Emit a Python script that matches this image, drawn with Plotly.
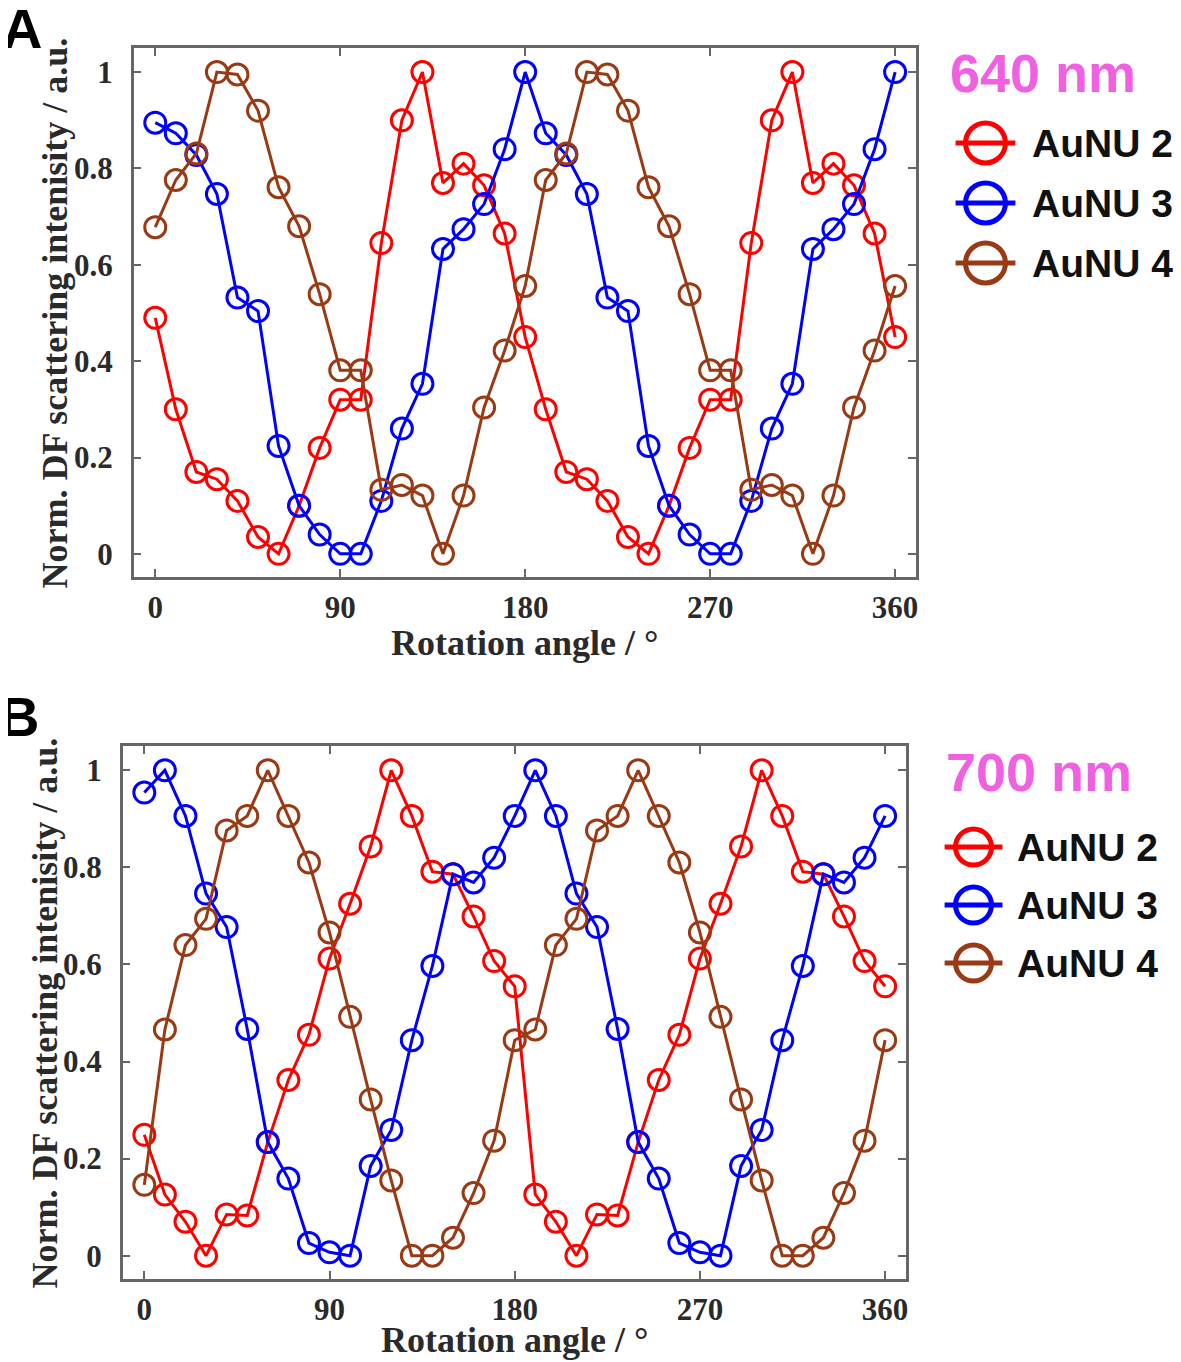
import plotly.graph_objects as go

PAGE_W, PAGE_H = 1181, 1362
OFF = 8  # the page body adds an 8px margin around the figure
W, H = PAGE_W - OFF, PAGE_H - OFF

angles = list(range(0, 361, 10))
series_names = ['AuNU 2', 'AuNU 3', 'AuNU 4']
series_colors = ['#FF0000', '#0000FF', '#993A14']
x_ticks = [0, 90, 180, 270, 360]
y_ticks = [0, 0.2, 0.4, 0.6, 0.8, 1]

# panel A, 640 nm
aunu2_640 = [0.49, 0.30, 0.17, 0.155, 0.11, 0.035, 0.0, 0.10, 0.22, 0.32, 0.32, 0.645, 0.90, 1.0,
             0.77, 0.81, 0.765, 0.665, 0.45, 0.30, 0.17, 0.155, 0.11, 0.035, 0.0, 0.10, 0.22, 0.32,
             0.32, 0.645, 0.90, 1.0, 0.77, 0.81, 0.765, 0.665, 0.45]
aunu3_640 = [0.895, 0.873, 0.828, 0.747, 0.532, 0.504, 0.224, 0.10, 0.04, 0.0, 0.0, 0.11, 0.26, 0.353,
             0.633, 0.674, 0.726, 0.84, 1.0, 0.873, 0.828, 0.747, 0.532, 0.504, 0.224, 0.10, 0.04, 0.0,
             0.0, 0.11, 0.26, 0.353, 0.633, 0.674, 0.726, 0.84, 1.0]
aunu4_640 = [0.678, 0.776, 0.831, 1.0, 0.995, 0.92, 0.761, 0.68, 0.539, 0.381, 0.381, 0.133, 0.143, 0.121,
             0.0, 0.121, 0.304, 0.422, 0.556, 0.776, 0.831, 1.0, 0.995, 0.92, 0.761, 0.68, 0.539, 0.381,
             0.381, 0.133, 0.143, 0.121, 0.0, 0.121, 0.304, 0.422, 0.556]

# panel B, 700 nm
aunu2_700 = [0.249, 0.126, 0.07, 0.0, 0.085, 0.083, 0.234, 0.362, 0.455, 0.612, 0.725, 0.843, 1.0, 0.906,
             0.791, 0.786, 0.699, 0.607, 0.555, 0.126, 0.07, 0.0, 0.085, 0.083, 0.234, 0.362, 0.455, 0.612,
             0.725, 0.843, 1.0, 0.906, 0.791, 0.786, 0.699, 0.607, 0.555]
aunu3_700 = [0.954, 1.0, 0.906, 0.746, 0.677, 0.467, 0.234, 0.159, 0.026, 0.007, 0.0, 0.185, 0.259, 0.444,
             0.597, 0.786, 0.769, 0.82, 0.906, 1.0, 0.906, 0.746, 0.677, 0.467, 0.234, 0.159, 0.026, 0.007,
             0.0, 0.185, 0.259, 0.444, 0.597, 0.786, 0.769, 0.82, 0.906]
aunu4_700 = [0.146, 0.466, 0.64, 0.694, 0.876, 0.906, 1.0, 0.906, 0.81, 0.666, 0.492, 0.322, 0.155, 0.0,
             0.0, 0.037, 0.129, 0.237, 0.444, 0.466, 0.64, 0.694, 0.876, 0.906, 1.0, 0.906, 0.81, 0.666,
             0.492, 0.322, 0.155, 0.0, 0.0, 0.037, 0.129, 0.237, 0.444]

# layout positions below are page pixels (top-left origin)
panels = [
    dict(label='A', wavelength='640 nm', data=[aunu2_640, aunu3_640, aunu4_640],
         box=(134, 918, 48, 577), label_xy=(22, 28), xtitle_y=643, ytitle_x=55,
         head_xy=(950, 73), line_x=(958, 1018), text_x=1033, rows=[143, 203, 263], circ=40),
    dict(label='B', wavelength='700 nm', data=[aunu2_700, aunu3_700, aunu4_700],
         box=(123, 908, 746, 1279), label_xy=(19, 716), xtitle_y=1340, ytitle_x=45,
         head_xy=(946, 772), line_x=(947, 1005), text_x=1018, rows=[847, 905, 963], circ=36),
]

serif = 'Liberation Serif, Times New Roman, serif'
sans = 'Liberation Sans, Arial, sans-serif'
axis_grey = '#666666'
text_grey = '#2a2a2a'

fig = go.Figure()
annotations = []

for i, p in enumerate(panels):
    xa = 'x' if i == 0 else 'x2'
    ya = 'y' if i == 0 else 'y2'
    for name, color, vals in zip(series_names, series_colors, p['data']):
        fig.add_trace(go.Scatter(
            x=angles, y=vals, name=name, mode='lines+markers',
            xaxis=xa, yaxis=ya, showlegend=False,
            line=dict(color=color, width=3),
            marker=dict(symbol='circle-open', size=21, color=color, line=dict(width=3, color=color))
        ))

    x0, x1, y0, y1 = p['box']
    common = dict(showline=True, linecolor=axis_grey, linewidth=2.5, mirror='allticks',
                  ticks='inside', ticklen=8, tickwidth=2, tickcolor=axis_grey,
                  showgrid=False, zeroline=False,
                  tickfont=dict(family=serif, size=31, color=text_grey, weight='bold'))
    key = '' if i == 0 else '2'
    fig.update_layout(**{
        'xaxis' + key: dict(domain=[(x0 - OFF) / W, (x1 - OFF) / W], range=[-10.5, 370],
                            tickvals=x_ticks, anchor='y' + key, ticklabelstandoff=1, **common),
        'yaxis' + key: dict(domain=[1 - (y1 - OFF) / H, 1 - (y0 - OFF) / H], range=[-0.048, 1.05],
                            tickvals=y_ticks, anchor='x' + key, ticklabelstandoff=12, **common),
    })

    # axis titles
    annotations.append(dict(x=(x0 + x1) / 2, y=p['xtitle_y'], xref='x3', yref='y3',
                            text='Rotation angle / \u00b0', showarrow=False,
                            xanchor='center', yanchor='middle',
                            font=dict(family=serif, size=36, color=text_grey, weight='bold')))
    annotations.append(dict(x=p['ytitle_x'], y=(y0 + y1) / 2, xref='x3', yref='y3',
                            text='Norm. DF scattering intenisity / a.u.', showarrow=False,
                            textangle=-90, xanchor='center', yanchor='middle',
                            font=dict(family=serif, size=36, color=text_grey, weight='bold')))

    # legend drawn on a full-page pixel overlay so the symbols can be large
    lx0, lx1 = p['line_x']
    for row, name, color in zip(p['rows'], series_names, series_colors):
        fig.add_trace(go.Scatter(
            x=[lx0, lx1], y=[row, row], mode='lines', xaxis='x3', yaxis='y3',
            showlegend=False, hoverinfo='skip', line=dict(color=color, width=5)))
        fig.add_trace(go.Scatter(
            x=[(lx0 + lx1) / 2], y=[row], mode='markers', xaxis='x3', yaxis='y3',
            showlegend=False, hoverinfo='skip',
            marker=dict(symbol='circle-open', size=p['circ'], color=color, line=dict(width=5, color=color))))
        annotations.append(dict(x=p['text_x'], y=row, xref='x3', yref='y3', text=name,
                                showarrow=False, xanchor='left', yanchor='middle',
                                font=dict(family=sans, size=39, color='#111111', weight='bold')))
    hx, hy = p['head_xy']
    annotations.append(dict(x=hx, y=hy, xref='x3', yref='y3', text=p['wavelength'],
                            showarrow=False, xanchor='left', yanchor='middle',
                            font=dict(family=sans, size=54, color='#F060E0', weight='bold')))
    lbx, lby = p['label_xy']
    annotations.append(dict(x=lbx, y=lby, xref='x3', yref='y3', text=p['label'],
                            showarrow=False, xanchor='center', yanchor='middle',
                            font=dict(family=sans, size=56, color='#000000', weight='bold')))

fig.update_layout(
    width=W, height=H,
    margin=dict(l=0, r=0, t=0, b=0),
    paper_bgcolor='white', plot_bgcolor='rgba(0,0,0,0)',
    showlegend=False,
    xaxis3=dict(domain=[0, 1], range=[OFF, PAGE_W], visible=False, anchor='y3', fixedrange=True),
    yaxis3=dict(domain=[0, 1], range=[PAGE_H, OFF], visible=False, anchor='x3', fixedrange=True),
    annotations=annotations,
)

fig.write_html("out.html")
